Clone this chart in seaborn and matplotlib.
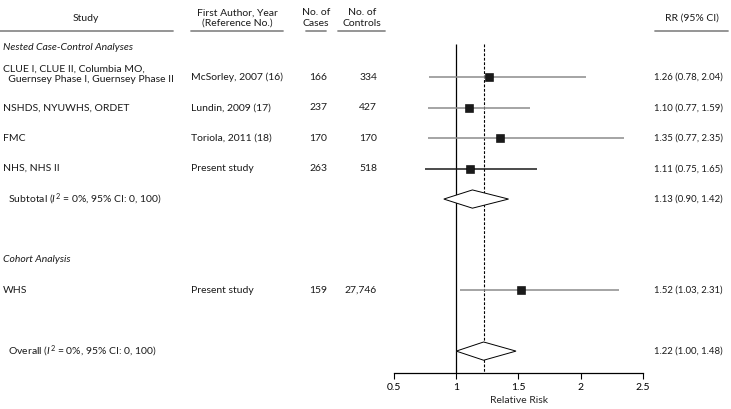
import numpy as np
import seaborn as sns
import matplotlib.pyplot as plt
from matplotlib.patches import Polygon
from matplotlib.lines import Line2D
import matplotlib.transforms as mtrans

# study rows
studies = ["CLUE I, CLUE II, Columbia MO,\n  Guernsey Phase I, Guernsey Phase II",
           "NSHDS, NYUWHS, ORDET", "FMC", "NHS, NHS II", "WHS"]
authors = ["McSorley, 2007 (16)", "Lundin, 2009 (17)", "Toriola, 2011 (18)",
           "Present study", "Present study"]
cases = ["166", "237", "170", "263", "159"]
controls = ["334", "427", "170", "518", "27,746"]
rr = [1.26, 1.10, 1.35, 1.11, 1.52]
lo = [0.78, 0.77, 0.77, 0.75, 1.03]
hi = [2.04, 1.59, 2.35, 1.65, 2.31]
study_rows = [1, 2, 3, 4, 8]
ci_colors = ["#8c8c8c", "#8c8c8c", "#8c8c8c", "#1a1a1a", "#8c8c8c"]

# pooled estimates
pooled_labels = ["  Subtotal ($I^2$ = 0%, 95% CI: 0, 100)",
                 "  Overall ($I^2$ = 0%, 95% CI: 0, 100)"]
pooled_rr = [1.13, 1.22]
pooled_lo = [0.90, 1.00]
pooled_hi = [1.42, 1.48]
pooled_rows = [5, 10]

sections = ["Nested Case-Control Analyses", "Cohort Analysis"]
section_rows = [0, 7]

xticks = [0.5, 1, 1.5, 2, 2.5]

sns.set_style("white")
plt.rcParams['font.family'] = ['Lato', 'DejaVu Sans']
plt.rcParams['mathtext.fontset'] = 'custom'
plt.rcParams['mathtext.rm'] = 'Lato'
plt.rcParams['mathtext.it'] = 'Lato:italic'
FS = 7.5

W, H = 731, 409
fig = plt.figure(figsize=(W / 100, H / 100), dpi=100)
ax = fig.add_axes([394 / W, 36 / H, 249 / W, 373 / H])
ax.set_xlim(0.5, 2.5)
ax.set_ylim(10.72, -1.546)

# reference lines
ax.vlines(1, -0.1, 10.72, color="black", lw=0.9)
ax.vlines(pooled_rr[1], -0.1, 10.72, color="black", lw=0.8, linestyles=(0, (2.5, 1.5)))

# CIs and squares
for r, l, h, c in zip(study_rows, lo, hi, ci_colors):
    ax.hlines(r, l, h, color=c, lw=1.1)
sns.scatterplot(x=rr, y=study_rows, marker="s", s=32, color="#1a1a1a",
                linewidth=0.4, edgecolor="black", ax=ax, legend=False, zorder=3)

# diamonds
for r, m, l, h in zip(pooled_rows, pooled_rr, pooled_lo, pooled_hi):
    d = Polygon([(l, r), (m, r - 0.3), (h, r), (m, r + 0.3)], closed=True,
                facecolor="white", edgecolor="black", lw=0.7, zorder=3)
    ax.add_patch(d)

for s in ["top", "left", "right"]:
    ax.spines[s].set_visible(False)
ax.spines["bottom"].set_linewidth(0.9)
ax.spines["bottom"].set_color("black")
ax.set_xticks(xticks)
ax.set_xticklabels(["0.5", "1", "1.5", "2", "2.5"])
ax.set_yticks([])
ax.tick_params(axis="x", direction="out", length=4, width=0.8, labelsize=FS, pad=3,
               bottom=True, colors="black")
ax.set_xlabel("Relative Risk", fontsize=FS, labelpad=3)
ax.set_ylabel("")

# text columns
tr = mtrans.blended_transform_factory(fig.transFigure, ax.transData)
kw = dict(transform=tr, va="center", clip_on=False, color="#1a1a1a")

def fx(px):
    return px / W

for r, s, a, ca, co in zip(study_rows, studies, authors, cases, controls):
    yy = r - 0.1 if "\n" in s else r
    ax.text(fx(3), yy, s, ha="left", linespacing=1.15, fontsize=FS, **kw)
    ax.text(fx(191), r, a, ha="left", fontsize=FS, **kw)
    ax.text(fx(327), r, ca, ha="right", fontsize=FS, **kw)
    ax.text(fx(377), r, co, ha="right", fontsize=FS, **kw)

for r, m, l, h in zip(study_rows, rr, lo, hi):
    ax.text(fx(654), r, f"{m:.2f} ({l:.2f}, {h:.2f})", ha="left", fontsize=6.9, **kw)

for r, lab, m, l, h in zip(pooled_rows, pooled_labels, pooled_rr, pooled_lo, pooled_hi):
    ax.text(fx(3), r, lab, ha="left", fontsize=FS, **kw)
    ax.text(fx(654), r, f"{m:.2f} ({l:.2f}, {h:.2f})", ha="left", fontsize=6.9, **kw)

for r, s in zip(section_rows, sections):
    ax.text(fx(3), r, s, ha="left", style="italic", fontsize=FS, **kw)

# column headers
headers = [("Study", 86), ("First Author, Year\n(Reference No.)", 237),
           ("No. of\nCases", 316), ("No. of\nControls", 362), ("RR (95% CI)", 692)]
for txt, cx in headers:
    ax.text(fx(cx), -0.95, txt, ha="center", linespacing=1.2, fontsize=FS, **kw)

underlines = [(0, 173), (191, 283), (306, 326), (338, 385), (655, 728)]
for x0, x1 in underlines:
    fig.add_artist(Line2D([x0 / W, x1 / W], [1 - 31 / H, 1 - 31 / H],
                          color="#8c8c8c", lw=1.3, transform=fig.transFigure))

fig.savefig("out.png", dpi=100)
